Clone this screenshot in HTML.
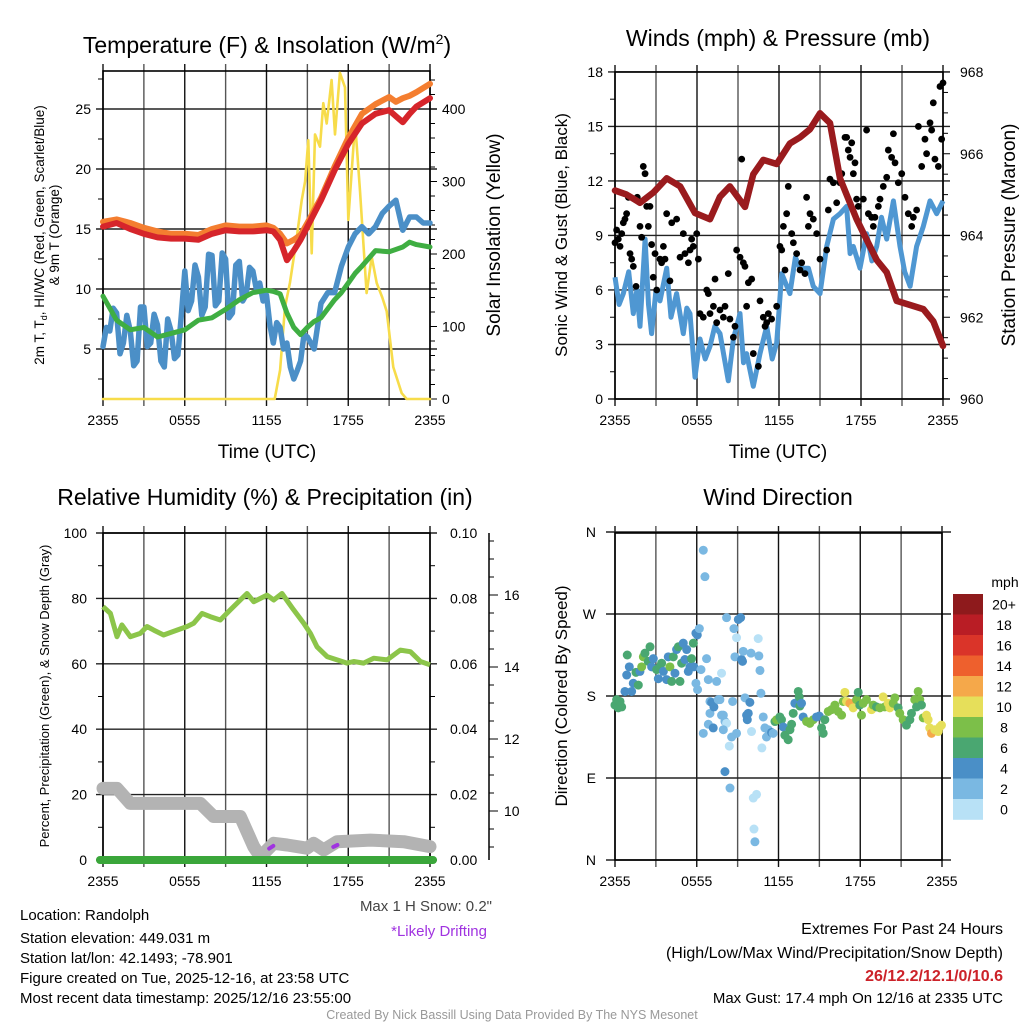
<!DOCTYPE html>
<html><head><meta charset="utf-8">
<style>
html,body{margin:0;padding:0;background:#fff;}
svg{display:block;font-family:"Liberation Sans",Arial,sans-serif;}
</style></head>
<body>
<svg id="chart" width="1024" height="1024" viewBox="0 0 1024 1024" xmlns="http://www.w3.org/2000/svg">
<rect width="1024" height="1024" fill="#fff"/>
<g id="p1"></g>
<g id="p2"></g>
<g id="p3"></g>
<g id="p4"></g>
<g id="txt">
<text x="267" y="53" font-size="23" text-anchor="middle">Temperature (F) &amp; Insolation (W/m<tspan font-size="14" dy="-9">2</tspan><tspan dy="9">)</tspan></text>
<text x="778" y="46" font-size="23" text-anchor="middle">Winds (mph) &amp; Pressure (mb)</text>
<text x="265" y="505" font-size="23" text-anchor="middle">Relative Humidity (%) &amp; Precipitation (in)</text>
<text x="778" y="505" font-size="23" text-anchor="middle">Wind Direction</text>
<text x="267" y="458" font-size="19" text-anchor="middle">Time (UTC)</text>
<text x="778" y="458" font-size="19" text-anchor="middle">Time (UTC)</text>
<text transform="translate(44,235) rotate(-90)" font-size="13.5" text-anchor="middle">2m T, T<tspan font-size="9" dy="3">d</tspan><tspan dy="-3">, HI/WC (Red, Green, Scarlet/Blue)</tspan></text>
<text transform="translate(59,235) rotate(-90)" font-size="13.5" text-anchor="middle">&amp; 9m T (Orange)</text>
<text transform="translate(500,235) rotate(-90)" font-size="19" text-anchor="middle">Solar Insolation (Yellow)</text>
<text transform="translate(567,235) rotate(-90)" font-size="17" text-anchor="middle">Sonic Wind &amp; Gust (Blue, Black)</text>
<text transform="translate(1015,235) rotate(-90)" font-size="19" text-anchor="middle">Station Pressure (Maroon)</text>
<text transform="translate(49,696) rotate(-90)" font-size="13" text-anchor="middle">Percent, Precipitation (Green), &amp; Snow Depth (Gray)</text>
<text transform="translate(567,696) rotate(-90)" font-size="17" text-anchor="middle">Direction (Colored By Speed)</text>
<text x="492" y="911" font-size="15" text-anchor="end" fill="#444">Max 1 H Snow: 0.2"</text>
<text x="487" y="936" font-size="15" text-anchor="end" fill="#a033e0">*Likely Drifting</text>
<text x="20" y="920" font-size="15">Location: Randolph</text>
<text x="20" y="943" font-size="15">Station elevation: 449.031 m</text>
<text x="20" y="963" font-size="15">Station lat/lon: 42.1493; -78.901</text>
<text x="20" y="983" font-size="15">Figure created on Tue, 2025-12-16, at 23:58 UTC</text>
<text x="20" y="1003" font-size="15">Most recent data timestamp: 2025/12/16 23:55:00</text>
<text x="512" y="1019" font-size="12.5" text-anchor="middle" fill="#999">Created By Nick Bassill Using Data Provided By The NYS Mesonet</text>
<text x="1003" y="934" font-size="16" text-anchor="end">Extremes For Past 24 Hours</text>
<text x="1003" y="958" font-size="16" text-anchor="end">(High/Low/Max Wind/Precipitation/Snow Depth)</text>
<text x="1003" y="981" font-size="16" font-weight="bold" text-anchor="end" fill="#cc2229">26/12.2/12.1/0/10.6</text>
<text x="1003" y="1003" font-size="15" text-anchor="end">Max Gust: 17.4 mph On 12/16 at 2335 UTC</text>
</g>
</svg>
<script>
const NS="http://www.w3.org/2000/svg";
const timeTicks=["2355","0555","1155","1755","2355"];
// Panel 1 data (hours after 2355)
const tempT=[0,1,2,3,4,5,6,7,8,9,10,11,12,12.5,13,13.5,14,14.5,15,16,17,18,19,20,21,21.5,22,22.5,23,24];
const temp2m=[15.2,15.5,15.0,14.6,14.3,14.2,14.2,14.1,14.6,14.9,14.8,14.8,14.9,14.8,14.1,12.4,13.2,14.1,15.2,17.4,19.9,22.1,23.8,24.6,24.9,24.4,23.9,24.6,25.2,25.9];
const temp9m=[15.6,15.8,15.5,15.1,14.8,14.6,14.6,14.5,15.0,15.3,15.2,15.2,15.3,15.1,14.6,13.8,14.1,14.5,15.5,17.6,20.2,22.6,24.6,25.4,26.0,25.6,25.9,26.1,26.4,27.1];
const dewT=[0,1,2,3,4,5,6,7,8,9,10,11,12,12.5,13,13.5,14,14.5,15,15.5,16,17,17.5,18,18.5,19,20,21,22,22.5,23,24];
const dewpoint=[9.4,7.4,6.6,6.8,6.0,6.3,6.6,7.4,7.6,8.3,9.1,9.7,9.9,9.8,9.6,8.0,6.8,6.2,6.8,7.3,7.6,9.1,9.7,10.5,11.3,11.9,13.2,13.1,13.5,13.9,13.7,13.5];
const chillT=[0,0.25,0.5,0.75,1,1.25,1.5,1.75,2,2.25,2.5,2.75,3,3.25,3.5,3.75,4,4.25,4.5,4.75,5,5.25,5.5,5.75,6,6.25,6.5,6.75,7,7.25,7.5,7.75,8,8.25,8.5,8.75,9,9.25,9.5,9.75,10,10.25,10.5,10.75,11,11.25,11.5,11.75,12,12.25,12.5,12.75,13,13.25,13.5,13.75,14,14.25,14.5,14.75,15,15.5,16,16.5,17,17.5,18,18.5,19,19.5,20,20.5,21,21.5,22,22.5,23,23.5,24];
const windChill=[5.2,6.8,6.5,8.4,8.0,4.6,5.5,7.8,6.5,3.6,4.0,8.5,8.5,5.2,5.5,7.9,7.0,4.0,3.5,7.5,6.5,4.2,4.5,7.8,11.5,8.2,9.0,12.0,11.0,7.8,8.5,12.9,12.8,8.6,9.0,13.0,12.5,7.6,8.0,12.0,12.3,9.0,9.5,11.8,11.5,10.0,10.5,9.0,9.5,7.0,5.5,7.2,6.8,5.0,5.5,3.5,2.5,3.2,4.0,6.2,6.0,5.0,8.8,9.7,9.7,11.9,13.5,14.6,15.2,14.6,15.2,16.3,16.9,17.4,14.9,16.0,16.0,15.5,15.5];
const solarT=[0,12.6,13.0,13.36,13.72,14.2,14.58,14.83,15.07,15.32,15.56,15.93,16.17,16.42,16.78,17.03,17.39,17.76,18.0,18.5,18.86,19.35,19.72,20.09,20.5,20.82,21.31,21.92,22.29,24];
const solar=[0,0,40,127,160,220,274,300,357,201,365,348,408,380,440,365,450,430,247,381,287,146,196,160,140,121,44,8,0,0];
// Panel 2 data
const windT=[0,0.3,0.61,1.0,1.34,1.6,1.83,2.2,2.45,2.68,3.0,3.29,3.78,4.1,4.51,5,5.25,5.49,5.85,6.22,6.6,6.95,7.3,7.68,8.29,8.66,9.15,9.4,9.63,10.12,10.61,11.1,11.5,11.83,12.2,12.8,13.2,13.54,14.15,14.51,15,15.49,15.98,16.46,16.95,17.2,17.44,17.93,18.41,18.8,19.15,19.5,19.88,20.37,20.85,21.2,21.59,22.07,22.56,23.05,23.54,24];
const windSpeed=[6.7,5.2,5.8,7.0,4.7,6.0,4.0,8.8,5.2,3.6,6.0,5.4,7.2,4.5,5.8,3.6,5.0,4.7,1.2,3.3,2.2,2.9,4.0,3.6,1.0,3.3,4.7,2.0,2.5,0.7,2.5,4.0,2.2,3.1,6.9,5.8,7.8,7.2,7.2,6.2,5.8,8.4,9.9,10.2,10.6,8.0,8.4,7.2,9.1,7.6,8.4,10.0,8.8,10.9,8.4,7.0,6.2,8.4,9.5,10.9,10.2,10.9];
const gustT=[0,0.12,0.24,0.37,0.49,0.61,0.73,0.85,0.98,1.1,1.22,1.34,1.54,1.63,1.83,1.95,2.07,2.2,2.32,2.44,2.56,2.68,2.8,2.93,3.05,3.29,3.41,3.54,3.66,3.78,4.02,4.15,4.51,4.76,5,5.12,5.37,5.49,5.61,5.73,5.98,6.1,6.22,6.46,6.71,6.83,6.95,7.2,7.32,7.44,7.68,7.93,8.05,8.29,8.41,8.66,8.78,8.9,9.15,9.27,9.39,9.51,9.63,9.76,10,10.12,10.49,10.61,10.85,10.98,11.1,11.22,11.46,11.83,12.07,12.2,12.32,12.44,12.56,12.68,12.93,13.05,13.29,13.54,13.66,13.9,14.02,14.15,14.27,14.51,14.76,15,15.49,15.61,15.73,15.98,16.22,16.46,16.59,16.83,16.95,17.07,17.2,17.32,17.44,17.56,17.68,17.8,18.17,18.41,18.54,18.78,18.9,19.02,19.27,19.39,19.63,19.88,20,20.24,20.37,20.49,20.73,20.98,21.22,21.46,21.71,21.83,22.07,22.2,22.44,22.68,22.8,23.05,23.17,23.29,23.41,23.66,23.78,23.9,24];
const gust=[8.6,9.3,8.8,8.4,9.1,9.7,9.9,10.2,11.1,8.0,7.7,7.3,6.2,11.1,9.5,8.9,12.8,12.4,10.6,9.5,10.6,8.5,6.7,8.0,6.0,7.7,7.5,8.4,7.7,10.2,6.5,9.7,9.9,7.8,9.1,8.0,7.5,8.2,8.8,8.4,9.1,7.7,4.7,4.5,6.0,5.8,4.7,5.1,6.6,4.2,4.9,4.5,5.1,6.9,4.4,3.4,4.0,8.2,7.8,13.2,7.5,7.3,5.1,6.4,6.6,2.5,1.8,5.4,4.5,4.0,4.2,4.7,4.4,5.1,8.4,8.2,9.5,7.1,10.2,11.7,9.1,8.6,8.0,7.1,7.5,6.9,11.1,9.5,10.2,9.9,9.1,7.7,8.2,10.4,12.1,11.9,10.8,11.9,12.4,14.4,14.4,13.7,13.3,14.1,12.4,13.0,11.0,10.6,11.0,14.8,10.2,10.0,9.5,10.0,10.6,11.0,11.7,12.2,13.7,13.3,14.6,13.0,11.9,12.4,11.1,10.2,9.5,10.0,10.4,15.0,12.8,14.3,13.5,15.2,14.8,16.3,13.2,12.8,17.2,14.3,17.4,13.9];
const presT=[0,0.85,1.83,2.8,3.78,4.76,5.85,6.95,7.68,8.41,9.51,10.12,10.85,11.83,12.8,13.54,14.27,15,15.73,16.46,16.95,17.68,18.41,19.15,19.88,20.61,21.59,22.56,23.29,24];
const pressure=[965.1,965.0,964.8,965.05,965.4,965.2,964.55,964.4,964.95,965.2,964.7,965.5,965.85,965.75,966.25,966.4,966.6,966.99,966.75,965.4,965.0,964.4,963.9,963.4,963.1,962.4,962.3,962.2,961.9,961.3];
// Panel 3 data
const rhT=[0,0.54,1.03,1.39,2.0,2.74,3.23,3.72,4.45,5.43,6.17,6.66,7.27,7.88,8.61,9.35,10.08,10.57,11.06,12.04,12.53,13.14,13.99,14.73,15.22,15.71,16.45,17.18,17.91,18.4,19.13,19.87,20.85,21.82,22.56,23.3,24];
const rh=[77.5,75.4,68.3,71.9,68.3,69.3,71.4,70.3,68.8,70.3,71.4,72.4,75.4,74.4,73.4,76.5,79.5,81.5,79.0,81.0,79.5,81.5,76.5,72.4,69.3,65.2,62.2,61.2,60.2,60.7,60.2,61.7,61.2,64.2,63.7,60.7,59.7];
const snowT=[0,1.03,2.0,7.14,8.12,10.08,11.06,11.55,12.53,13.51,14.97,15.46,16.2,17.18,19.62,22.07,24];
const snowDepth=[21.9,21.9,17.3,17.3,13.3,13.3,4.1,1.0,5.1,4.6,3.6,5.1,3.1,5.6,6.1,5.6,4.1];
const driftT=[12.2,12.5,16.9,17.2];
const drift=[3.5,4.3,4.0,4.6];
// Panel 4 data
const dirT=[0,0.12,0.24,0.49,0.37,0.73,0.86,0.9,1.05,1.22,1.34,1.54,1.71,1.83,1.96,2.08,2.2,2.44,2.57,2.69,2.81,3.06,3.18,3.3,3.42,3.55,3.79,3.91,4.03,4.16,4.28,4.4,4.52,4.65,4.77,4.89,5.01,5.13,5.26,5.38,5.5,5.62,5.75,5.79,5.94,6.04,6.19,6.31,5.94,6.06,6.48,6.6,6.72,6.85,6.48,6.85,6.97,6.97,7.09,7.21,7.26,7.46,7.58,7.7,7.82,7.82,7.95,8.07,8.19,7.95,8.07,8.19,8.39,8.44,8.56,8.63,8.73,8.8,8.92,8.92,9.05,9.22,9.29,9.36,9.41,9.54,9.66,9.71,9.78,9.9,9.98,10.02,10.15,10.39,10.2,10.27,10.51,10.56,10.64,10.71,10.78,10.88,11.0,11.12,11.25,11.49,11.61,11.74,11.86,12.1,12.22,12.35,12.47,12.71,12.84,12.96,13.08,13.2,13.45,13.52,13.57,13.69,13.81,14.06,14.3,14.55,14.79,14.99,15.16,15.28,15.4,15.65,15.89,16.14,16.38,16.63,16.75,16.87,16.99,17.24,17.48,17.73,17.85,17.97,18.09,18.21,18.46,18.83,18.95,19.19,19.44,19.68,19.8,20.05,20.17,20.42,20.54,20.78,20.9,21.15,21.39,21.64,21.76,22.0,22.13,22.25,22.37,22.49,22.62,22.86,22.98,23.1,23.23,23.47,23.72,23.84,23.96];
const dirDeg=[170,176,167,168,174,185,203,225,212,185,194,206,192,207,212,223,227,218,234,212,221,209,199,212,216,207,198,223,212,196,223,205,231,234,196,216,238,220,231,207,212,221,238,212,249,247,254,209,194,187,340,311,221,198,139,149,174,161,173,145,168,196,176,176,205,159,159,152,150,143,97,266,125,79,135,174,254,223,244,139,264,266,220,218,229,178,159,154,161,173,227,141,68,72,34,20,243,224,208,183,123,157,145,135,143,140,139,152,154,157,154,146,137,132,143,149,161,172,185,179,169,172,157,152,150,154,157,158,145,139,154,163,165,170,163,159,174,184,174,172,167,176,184,170,159,172,176,165,170,168,167,179,168,172,167,172,178,167,161,154,148,154,161,176,168,185,176,170,156,159,154,145,139,143,141,146,148];
const dirSpeed=[6,6,6,6,6,4,4,6,4,4,4,6,6,4,8,8,6,6,6,4,4,6,4,6,6,4,4,4,8,6,6,4,4,6,6,6,4,4,4,4,4,6,6,4,4,4,2,2,2,2,2,2,2,2,2,2,2,2,4,4,4,2,2,2,0,2,2,2,0,2,4,2,0,2,2,2,2,2,0,2,4,4,4,4,2,2,4,4,4,4,2,0,0,0,0,2,0,2,2,2,0,2,2,2,2,4,2,6,8,6,6,4,6,6,6,6,6,4,6,6,6,4,4,8,8,8,4,4,6,6,6,8,8,8,8,8,8,10,10,12,10,8,6,6,8,8,8,10,8,6,8,10,8,10,10,8,8,6,8,8,6,6,6,8,6,8,8,6,8,10,10,10,12,10,10,10,10];
const speedBins=["20+","18","16","14","12","10","8","6","4","2","0"];
const speedColors=["#8e1a1c","#b91d25","#da3429","#ee602d","#f5a84a","#e6df5a","#7cbf49","#4aa771","#4a8fc7","#7ab8e2","#b8e1f6"];

function mk(tag,attrs,parent){const e=document.createElementNS(NS,tag);for(const k in attrs)e.setAttribute(k,attrs[k]);parent.appendChild(e);return e;}
function txt(s,x,y,size,anchor,parent){const e=mk("text",{x:x,y:y,"font-size":size,"text-anchor":anchor},parent);e.textContent=s;return e;}
function path(ts,vs,xf,yf){let d="";for(let i=0;i<ts.length;i++){d+=(i?"L":"M")+xf(ts[i]).toFixed(1)+","+yf(vs[i]).toFixed(1);}return d;}

function frame(g,x0,x1,top,bot,hLines,hExt){
  for(let h=0;h<=24;h+=3){const x=x0+(x1-x0)*h/24;
    const l=mk("line",{x1:x,x2:x,y1:top-7,y2:bot+7,stroke:(h%6==0)?"#111":"#555","stroke-width":1.4},g);
    
    }
  hLines.forEach(y=>{const l=mk("line",{x1:x0-hExt,x2:x1+hExt,y1:y,y2:y,stroke:"#222","stroke-width":1.4},g);
    
    });
  const b=mk("rect",{x:x0,y:top,width:x1-x0,height:bot-top,fill:"none",stroke:"#000","stroke-width":1.6},g);
  
  
  timeTicks.forEach((s,i)=>{const t=txt(s,x0+(x1-x0)*i/4,bot+26,14,"middle",g);
    
    });
}
function minorTicks(g,x,ys,dir){ys.forEach(y=>{mk("line",{x1:x,x2:x+dir*5,y1:y,y2:y,stroke:"#000","stroke-width":1},g);});}

// ---------- Panel 1 ----------
(function(){
  const g=document.getElementById("p1");
  const x0=103,x1=430,top=71,bot=399;
  const X=t=>x0+(x1-x0)*t/24;
  const Y=v=>349-(v-5)*12;
  const YR=v=>bot-v*0.725;
  const leftTicks=[5,10,15,20,25];
  const rightTicks=[0,100,200,300,400];
  frame(g,x0,x1,top,bot,leftTicks.map(Y),7);
  leftTicks.forEach(v=>{const t=txt(String(v),x0-12,Y(v)+5,14,"end",g);
    
    });
  rightTicks.forEach(v=>{mk("line",{x1:x1,x2:x1+7,y1:YR(v),y2:YR(v),stroke:"#000"},g);
    const t=txt(String(v),x1+12,YR(v)+5,14,"start",g);
    
    });
  const mins=[];for(let v=2.5;v<=27.5;v+=5)mins.push(Y(v));minorTicks(g,x0,mins,-1);
  const rmins=[];for(let v=20;v<=440;v+=20)if(v%100)rmins.push(YR(v));minorTicks(g,x1,rmins,1);
  const s=[[solarT,solar,YR,"#f7dc4a",2.6,"solar-insolation-line"],[chillT,windChill,Y,"#4b8fc7",5.5,"wind-chill-line"],[dewT,dewpoint,Y,"#3fae42",5,"dewpoint-line"],[tempT,temp9m,Y,"#f47e30",6,"temp-9m-line"],[tempT,temp2m,Y,"#d6252b",6,"temp-2m-line"]];
  s.forEach(a=>{const p=mk("path",{d:path(a[0],a[1],X,a[2]),fill:"none",stroke:a[3],"stroke-width":a[4],"stroke-linejoin":"round","stroke-linecap":"round"},g);
    
    });
})();

// ---------- Panel 2 ----------
(function(){
  const g=document.getElementById("p2");
  const x0=615,x1=943,top=72,bot=399;
  const X=t=>x0+(x1-x0)*t/24;
  const Y=v=>bot-v*18.17;
  const YR=p=>bot-(p-960)*40.875;
  const leftTicks=[0,3,6,9,12,15,18];
  const rightTicks=[960,962,964,966,968];
  frame(g,x0,x1,top,bot,leftTicks.map(Y),7);
  leftTicks.forEach(v=>{const t=txt(String(v),x0-12,Y(v)+5,14,"end",g);
    
    });
  rightTicks.forEach(v=>{mk("line",{x1:x1,x2:x1+7,y1:YR(v),y2:YR(v),stroke:"#000"},g);
    const t=txt(String(v),x1+17,YR(v)+5,14,"start",g);
    
    });
  const mins=[];for(let v=1.5;v<=18;v+=3)mins.push(Y(v));minorTicks(g,x0,mins,-1);
  const rmins=[];for(let v=960.5;v<968;v+=0.5)if(v%2)rmins.push(YR(v));minorTicks(g,x1,rmins,1);
  const w=mk("path",{d:path(windT,windSpeed,X,Y),fill:"none",stroke:"#4f97d2","stroke-width":5,"stroke-linejoin":"round"},g);
  
  
  gustT.forEach((t,i)=>{const c=mk("circle",{cx:X(t),cy:Y(gust[i]),r:3.4,fill:"#000"},g);
    
    });
  const p=mk("path",{d:path(presT,pressure,X,YR),fill:"none",stroke:"#9a1b1e","stroke-width":6.5,"stroke-linejoin":"round","stroke-linecap":"round"},g);
  
  
})();

// ---------- Panel 3 ----------
(function(){
  const g=document.getElementById("p3");
  const x0=103,x1=430,top=533,bot=860;
  const X=t=>x0+(x1-x0)*t/24;
  const Y=v=>bot-v*3.27;
  const leftTicks=[0,20,40,60,80,100];
  const rightTicks=["0.00","0.02","0.04","0.06","0.08","0.10"];
  frame(g,x0,x1,top,bot,leftTicks.map(Y),7);
  leftTicks.forEach(v=>{const t=txt(String(v),x0-16,Y(v)+5,14,"end",g);
    
    });
  rightTicks.forEach((s,i)=>{const t=txt(s,x1+20,Y(i*20)+5,14,"start",g);
    
    });
  const mins=[];for(let v=10;v<100;v+=20)mins.push(Y(v));minorTicks(g,x0,mins,-1);
  const rmins=[];for(let v=10;v<100;v+=10)if(v%20)rmins.push(Y(v));minorTicks(g,x1,rmins,1);
  const sx=489;const SY=v=>811-(v-10)*36;
  const ax=mk("line",{x1:sx,x2:sx,y1:top,y2:bot,stroke:"#000","stroke-width":1.5},g);
  
  
  [10,12,14,16].forEach(v=>{mk("line",{x1:sx,x2:sx+9,y1:SY(v),y2:SY(v),stroke:"#000"},g);
    const t=txt(String(v),sx+15,SY(v)+5,14,"start",g);
    
    });
  for(let v=9;v<=17.5;v+=0.5){if(v%2)mk("line",{x1:sx,x2:sx+5,y1:SY(v),y2:SY(v),stroke:"#000"},g);}
  const sd=mk("path",{d:path(snowT,snowDepth,X,Y),fill:"none",stroke:"#b3b3b3","stroke-width":13,"stroke-linejoin":"round","stroke-linecap":"round"},g);
  
  
  for(let i=0;i<driftT.length;i+=2){const d=mk("path",{d:path(driftT.slice(i,i+2),drift.slice(i,i+2),X,Y),fill:"none",stroke:"#a033e0","stroke-width":4,"stroke-linecap":"round"},g);
    
    }
  const pr=mk("line",{x1:x0-3,x2:x1+3,y1:Y(0),y2:Y(0),stroke:"#3aa63a","stroke-width":8,"stroke-linecap":"round"},g);
  
  
  const r=mk("path",{d:path(rhT,rh,X,Y),fill:"none",stroke:"#8cc54a","stroke-width":5,"stroke-linejoin":"round"},g);
  
  
})();

// ---------- Panel 4 ----------
(function(){
  const g=document.getElementById("p4");
  const x0=615,x1=942,top=533,bot=860;
  const X=t=>x0+(x1-x0)*t/24;
  const Y=d=>bot-d*0.9111;
  const dirTicks=["N","E","S","W","N"];
  frame(g,x0,x1,top,bot,[0,90,180,270,360].map(Y),9);
  dirTicks.forEach((s,i)=>{const t=txt(s,x0-19,Y(i*90)+5,14,"end",g);
    
    });
  const col=v=>speedColors[10-Math.min(10,Math.round(v/2))];
  dirT.forEach((t,i)=>{const c=mk("circle",{cx:X(t),cy:Y(dirDeg[i]),r:4.5,fill:col(dirSpeed[i])},g);
    
    });
  const cx=953,cy=594,bh=20.5;
  const u=txt("mph",1005,587,14,"middle",g);
  
  
  speedBins.forEach((s,i)=>{const r=mk("rect",{x:cx,y:cy+i*bh,width:30,height:bh+0.3,fill:speedColors[i]},g);
    
    
    const t=txt(s,1004,cy+i*bh+bh/2+5,14,"middle",g);
    
    });
})();
</script>
</body></html>
